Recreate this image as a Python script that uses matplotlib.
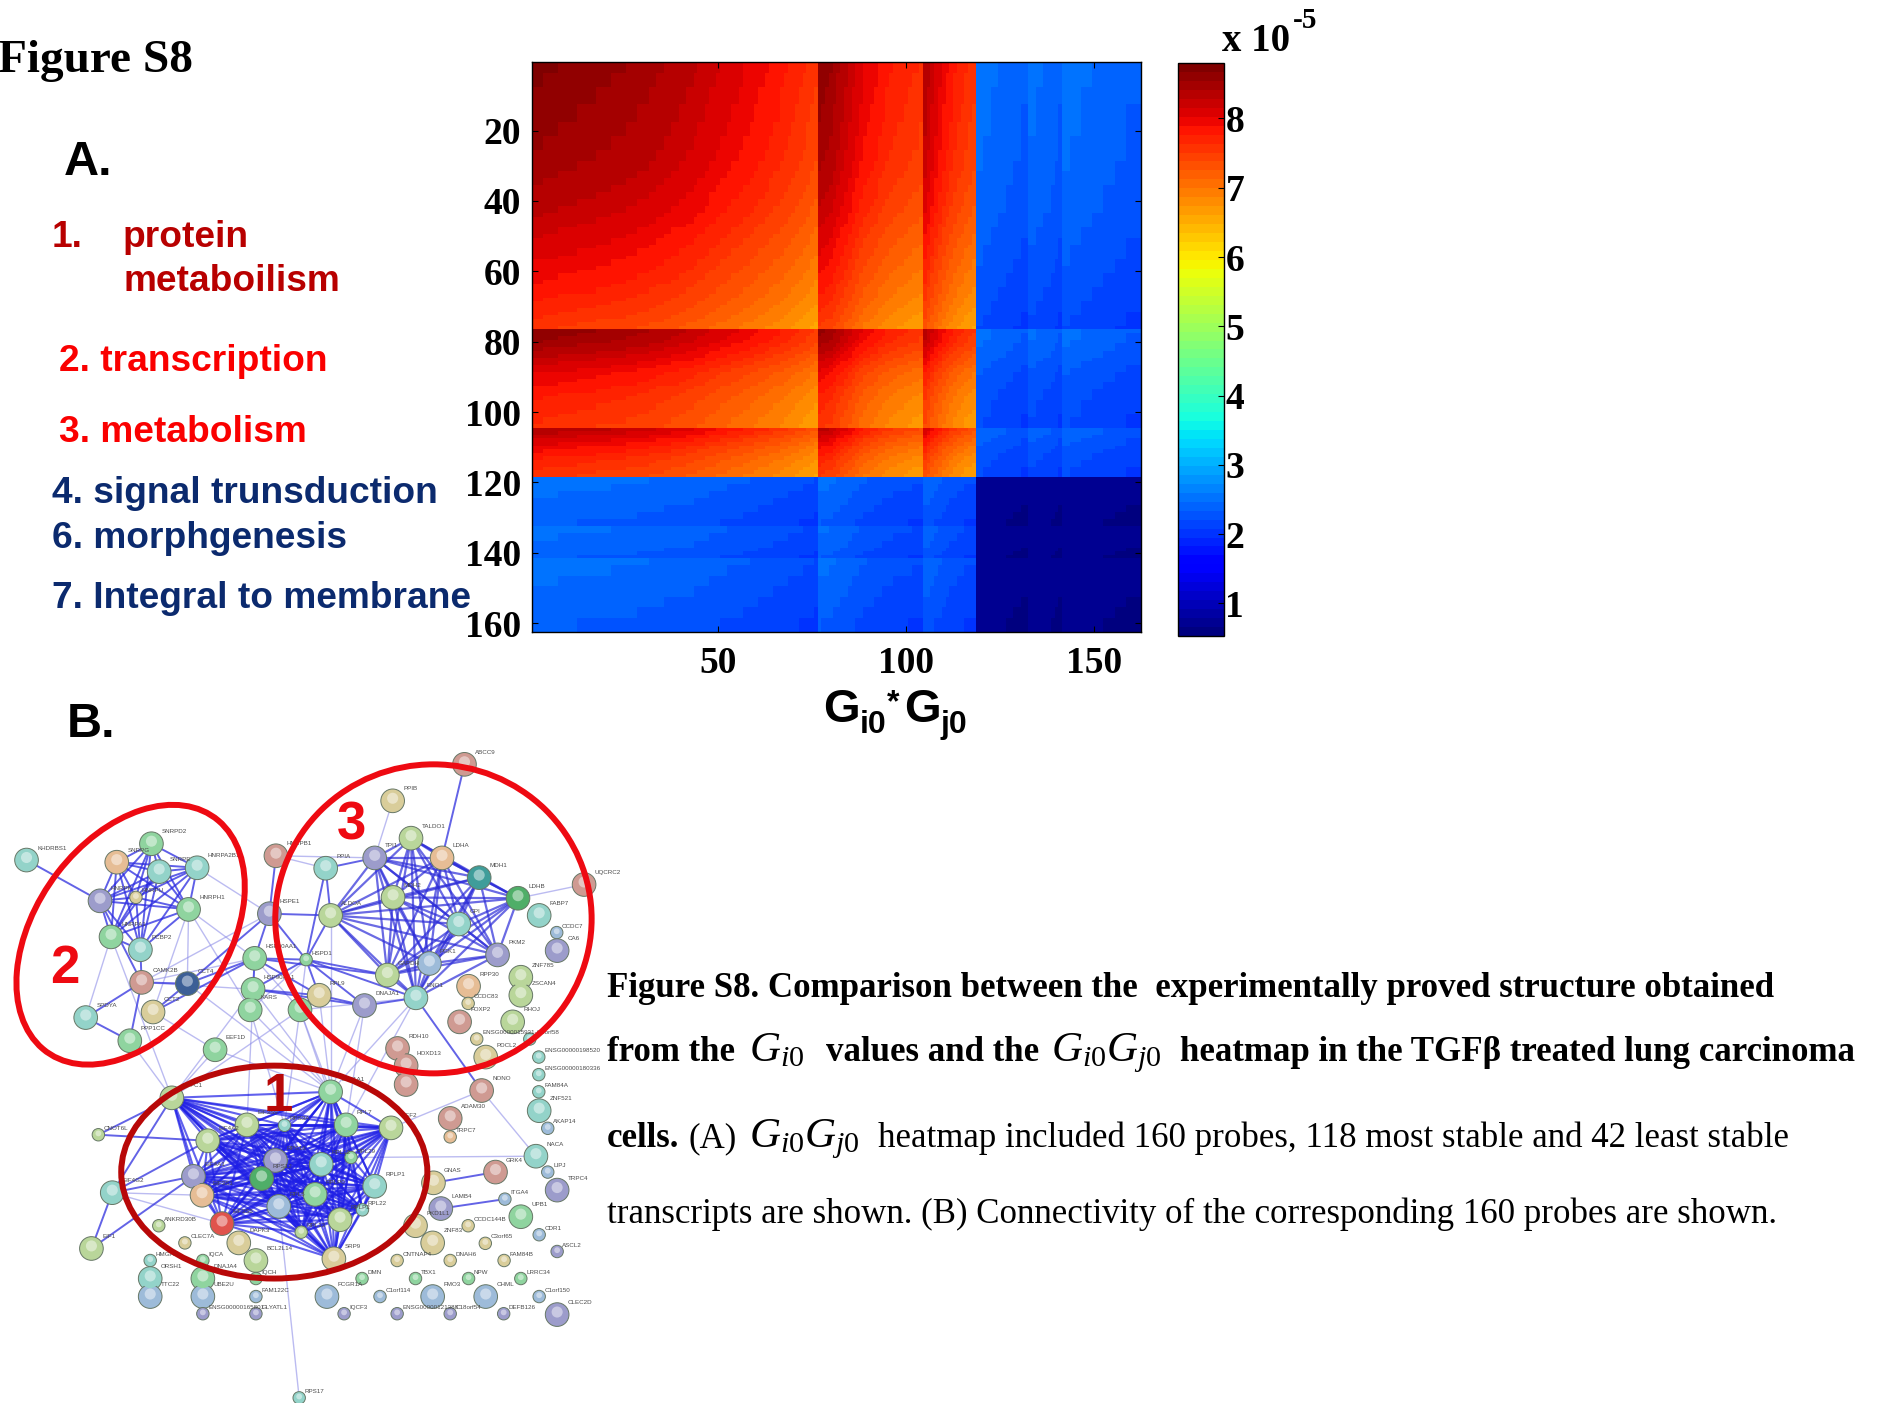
from itertools import combinations
import numpy as np
import matplotlib
matplotlib.use("Agg")
import matplotlib.pyplot as plt
from matplotlib.patches import Ellipse

plt.rcParams.update({
    "font.family": "Liberation Serif",
    "mathtext.fontset": "custom",
    "mathtext.rm": "Liberation Serif",
    "mathtext.it": "Liberation Serif:italic",
    "mathtext.bf": "Liberation Sans:bold",
})

# ── Data: heatmap (G_i0 profile) ──────────────────────────────────
g_stable_a = [
    2.95, 2.95, 2.95, 2.94, 2.94, 2.94, 2.94, 2.93, 2.93, 2.93,
    2.93, 2.93, 2.92, 2.92, 2.92, 2.92, 2.92, 2.91, 2.91, 2.91,
    2.91, 2.90, 2.90, 2.90, 2.90, 2.89, 2.89, 2.89, 2.88, 2.88,
    2.88, 2.87, 2.87, 2.86, 2.86, 2.85, 2.85, 2.84, 2.84, 2.83,
    2.83, 2.82, 2.82, 2.81, 2.80, 2.80, 2.79, 2.78, 2.78, 2.77,
    2.76, 2.76, 2.75, 2.74, 2.74, 2.73, 2.72, 2.72, 2.71, 2.70,
    2.69, 2.69, 2.68, 2.67, 2.66, 2.66, 2.65, 2.64, 2.63, 2.62,
    2.61, 2.60, 2.59, 2.58, 2.57, 2.56,
]
g_stable_b = [
    2.93, 2.92, 2.91, 2.90, 2.88, 2.86, 2.84, 2.82, 2.80, 2.78,
    2.76, 2.74, 2.72, 2.71, 2.70, 2.69, 2.67, 2.66, 2.65, 2.64,
    2.63, 2.62, 2.62, 2.61, 2.60, 2.59, 2.59, 2.58,
]
g_stable_c = [2.85, 2.82, 2.79, 2.76, 2.73, 2.70, 2.68, 2.66, 2.64, 2.62, 2.61, 2.59, 2.58, 2.57]
g_least_a = [0.86, 0.86, 0.85, 0.85, 0.84, 0.84, 0.83, 0.83, 0.82, 0.82, 0.81, 0.81, 0.80, 0.80]
g_least_b = [0.85, 0.85, 0.84, 0.84, 0.83, 0.83, 0.82, 0.81, 0.80]
g_least_c = [0.86, 0.86, 0.85, 0.85, 0.85, 0.84, 0.84, 0.84, 0.83, 0.83, 0.83,
             0.82, 0.82, 0.82, 0.81, 0.81, 0.81, 0.80, 0.80, 0.80, 0.80]

heat_xticks = [50, 100, 150]
heat_yticks = [20, 40, 60, 80, 100, 120, 140, 160]
cbar_ticks = [1, 2, 3, 4, 5, 6, 7, 8]

# ── Data: network (node layout) ───────────────────────────────────
node_names = [
    "ABCC9", "PPIB", "TALDO1", "TPI1", "LDHA", "PPIA", "MDH1", "MDH2",
    "LDHB", "UQCRC2", "ALDOA", "GPI", "FABP7", "CCDC7", "CA6", "PKM2",
    "PGK1", "GAPDH", "ZNF785", "ZSCAN4", "RPP30", "ENO1", "DNAJA1", "CCDC83",
    "FOXP2", "RHOJ", "ENSG0000015931-C6orf58", "C6orf58", "RDH10", "PDCL2", "HOXD13", "HOXD13b",
    "NONO", "ENSG00000198520", "ENSG00000180336", "FAM84A", "ZNF521", "AKAP14", "ADAM30", "TRPC7",
    "NACA", "GRK4", "LIPJ", "TRPC4", "GNAS", "LAMB4", "PKD1L1", "ITGA4",
    "UPB1", "CCDC144B", "CDR1", "ZNF83", "C3orf65", "ASCL2", "CNTNAP4", "DNAH6",
    "FAM84B", "DMN", "TBX1", "NPW", "LRRC34", "FCGR1A", "C1orf114", "FMO3",
    "CHML", "C1orf150", "IQCF3", "ENSG00000121388", "C18orf54", "DEFB126", "CLEC2D", "EPFC1",
    "CNOT6L", "EIF4G2", "EIF1", "ANKRD30B", "CLEC7A", "DAPK3", "BCL2L14", "HMGA",
    "ORSH1", "TTC22", "IQCA", "DNAJA4", "UBE2U", "IQCH", "FAM122C", "ENSG00000165801",
    "GLYATL1", "RPS17", "EIF3S9", "RPS3A", "EIF4A2", "RPL7", "EEF2", "EEF1A1",
    "RPS16", "RPL12", "RPL29", "EIF4A1", "RPS12", "RPLP0", "RPLP1", "EIF3S1",
    "RPL5", "RPL22", "RPLP2", "EIF3S6", "RPL13", "SRP9", "KHDRBS1", "SNRPD2",
    "SNRPG", "SNRPE", "HNRPA2B1", "HNRPK", "HNRPU", "HNRPH1", "HNRPA1", "PCBP2",
    "CAMK2B", "CCT4", "SPDYA", "CCT2", "PPP1CC", "HNRPB1", "HSPE1", "HSP90AA1",
    "HSP90AB", "KARS", "TUFM", "EEF1D", "RPL9", "HSPD1",
]
node_x = [
    1138, 962, 1007, 918, 1083, 798, 1174, 963,
    1269, 1431, 810, 1124, 1321, 1364, 1365, 1219,
    1052, 949, 1276, 1276, 1148, 1019, 893, 1147,
    1126, 1256, 1168, 1298, 974, 1190, 995, 995,
    1180, 1320, 1320, 1320, 1321, 1342, 1103, 1103,
    1313, 1214, 1342, 1365, 1062, 1080, 1018, 1237,
    1276, 1147, 1321, 1060, 1189, 1365, 973, 1103,
    1235, 887, 1018, 1148, 1276, 801, 931, 1060,
    1190, 1321, 843, 973, 1103, 1234, 1365, 421,
    241, 275, 224, 389, 453, 585, 627, 368,
    368, 368, 497, 497, 497, 627, 627, 497,
    627, 733, 605, 697, 509, 848, 958, 810,
    675, 787, 860, 474, 641, 772, 918, 495,
    683, 888, 833, 544, 738, 818, 65, 371,
    286, 390, 483, 245, 333, 462, 272, 344,
    347, 459, 210, 375, 318, 676, 660, 624,
    620, 613, 735, 527, 782, 750,
]
node_y = [
    80, 165, 252, 298, 298, 322, 344, 390,
    392, 360, 432, 452, 432, 472, 514, 524,
    544, 571, 576, 618, 597, 624, 642, 637,
    680, 680, 720, 720, 742, 762, 782, 826,
    840, 762, 803, 843, 887, 928, 905, 948,
    993, 1030, 1030, 1072, 1055, 1115, 1155, 1093,
    1134, 1155, 1176, 1195, 1196, 1215, 1236, 1236,
    1236, 1278, 1278, 1278, 1278, 1320, 1320, 1320,
    1320, 1320, 1360, 1360, 1360, 1360, 1362, 857,
    943, 1078, 1208, 1155, 1195, 1195, 1236, 1236,
    1278, 1320, 1236, 1278, 1320, 1278, 1320, 1360,
    1360, 1556, 920, 921, 957, 920, 927, 843,
    1003, 1012, 996, 1040, 1045, 1082, 1063, 1084,
    1110, 1118, 1141, 1150, 1170, 1232, 303, 265,
    308, 330, 321, 398, 390, 418, 482, 512,
    588, 591, 670, 657, 724, 293, 428, 532,
    604, 652, 652, 745, 618, 535,
]
node_tint = [
    "rose", "tan", "lime", "purple", "orange", "teal", "dteal", "lime",
    "dgreen", "rose", "lime", "teal", "teal", "blue", "purple", "purple",
    "blue", "lime", "lime", "lime", "orange", "teal", "purple", "tan",
    "rose", "lime", "tan", "teal", "rose", "tan", "rose", "rose",
    "rose", "teal", "teal", "teal", "teal", "blue", "rose", "orange",
    "teal", "rose", "blue", "purple", "tan", "purple", "tan", "blue",
    "green", "tan", "blue", "tan", "tan", "purple", "tan", "tan",
    "tan", "green", "green", "green", "green", "blue", "blue", "blue",
    "blue", "blue", "purple", "purple", "purple", "purple", "purple", "lime",
    "lime", "teal", "lime", "lime", "tan", "tan", "lime", "teal",
    "teal", "blue", "green", "green", "blue", "green", "blue", "purple",
    "purple", "teal", "lime", "teal", "lime", "green", "lime", "green",
    "purple", "teal", "green", "purple", "dgreen", "green", "teal", "orange",
    "blue", "teal", "lime", "red", "lime", "tan", "teal", "green",
    "orange", "teal", "teal", "purple", "tan", "green", "green", "teal",
    "rose", "navy", "teal", "tan", "green", "rose", "purple", "green",
    "green", "green", "green", "green", "tan", "green",
]
small_nodes = [
    "CCDC7", "CCDC83", "ENSG0000015931-C6orf58", "C6orf58", "ENSG00000198520", "ENSG00000180336",
    "FAM84A", "AKAP14", "TRPC7", "LIPJ", "ITGA4", "CCDC144B", "CDR1", "C3orf65", "ASCL2", "CNTNAP4",
    "DNAH6", "FAM84B", "DMN", "TBX1", "NPW", "LRRC34", "C1orf114", "C1orf150", "IQCF3",
    "ENSG00000121388", "C18orf54", "DEFB126", "CNOT6L", "ANKRD30B", "CLEC7A", "HMGA", "IQCA", "IQCH",
    "FAM122C", "ENSG00000165801", "GLYATL1", "RPS17", "RPS3A", "RPL29", "RPL22", "RPL13", "HNRPU",
    "HSPD1",
]
unlabelled = ["HOXD13b", "C6orf58", "TUFM"]
label_names = {"HSP90AB": "HSP90AA1"}

cluster_1 = ["EPFC1", "EIF3S9", "RPS3A", "EIF4A2", "RPL7", "EEF2", "EEF1A1", "RPS16", "RPL12", "RPL29",
             "EIF4A1", "RPS12", "RPLP0", "RPLP1", "EIF3S1", "RPL5", "RPL22", "RPLP2", "EIF3S6", "RPL13", "SRP9"]
cluster_2 = ["SNRPD2", "SNRPG", "SNRPE", "HNRPA2B1", "HNRPK", "HNRPU", "HNRPH1", "HNRPA1", "PCBP2"]
cluster_3 = ["TPI1", "LDHA", "MDH1", "MDH2", "LDHB", "ALDOA", "GPI", "PKM2", "PGK1", "GAPDH", "ENO1", "TALDO1"]
medium_edges = [
    ("KHDRBS1", "HNRPK"), ("HNRPB1", "HSPE1"), ("HSPE1", "HSP90AA1"), ("HSP90AA1", "HSP90AB"),
    ("HSP90AA1", "HSPD1"), ("HSP90AB", "HSPD1"), ("HSPD1", "RPL9"), ("HSP90AA1", "RPL9"),
    ("HSP90AB", "RPL9"), ("HSPD1", "DNAJA1"), ("RPL9", "DNAJA1"), ("HSPD1", "ALDOA"),
    ("HSPD1", "GAPDH"), ("HSPD1", "ENO1"), ("HSP90AA1", "GAPDH"), ("ENO1", "NONO"),
    ("ABCC9", "LDHA"), ("SPDYA", "PPP1CC"), ("CAMK2B", "PPP1CC"), ("CAMK2B", "SPDYA"),
    ("CCT4", "CCT2"), ("CCT2", "HSP90AA1"), ("CCT4", "HSP90AA1"), ("PPIA", "ALDOA"),
    ("PPIA", "HSPD1"), ("PPIA", "TPI1"), ("EIF4G2", "EIF4A1"), ("EIF1", "EIF4G2"),
    ("EIF1", "EIF4A1"), ("CNOT6L", "EIF4A2"), ("CNOT6L", "EPFC1"), ("GNAS", "GRK4"),
    ("ITGA4", "LAMB4"), ("EIF4G2", "EPFC1"), ("EIF4G2", "EIF4A2"), ("HNRPK", "CAMK2B"),
    ("PCBP2", "CAMK2B"), ("HSPE1", "ALDOA"), ("HSPE1", "HSPD1"), ("DNAJA1", "ENO1"),
    ("HSP90AB", "DNAJA1"), ("CAMK2B", "CCT4"), ("HSPE1", "CCT4"),
]
light_edges = [
    ("HNRPA2B1", "HSPE1"), ("HNRPH1", "HSP90AA1"), ("HNRPH1", "CCT4"), ("HNRPA1", "EPFC1"),
    ("PPP1CC", "EPFC1"), ("EEF1D", "EPFC1"), ("KARS", "EEF1A1"), ("EEF1D", "EEF1A1"),
    ("TUFM", "EPFC1"), ("TUFM", "EEF1A1"), ("HSP90AB", "EEF1A1"), ("RPL9", "EEF1A1"),
    ("DNAJA1", "EEF1A1"), ("ENO1", "EEF1A1"), ("ENO1", "RPL7"), ("KARS", "RPS3A"),
    ("TUFM", "RPS3A"), ("HSP90AA1", "EIF3S9"), ("UQCRC2", "LDHB"), ("PPIB", "TPI1"),
    ("NONO", "EEF2"), ("NACA", "NONO"), ("RPL29", "NACA"), ("RPS17", "RPL5"),
    ("HNRPB1", "PPIA"), ("HNRPB1", "TPI1"), ("CCT2", "EEF1D"), ("HSPE1", "CAMK2B"),
    ("HSP90AB", "CAMK2B"), ("HSP90AA1", "CAMK2B"), ("HSP90AA1", "TUFM"), ("HSP90AB", "EPFC1"),
    ("KARS", "HSPD1"), ("TUFM", "HSPD1"), ("TUFM", "RPL29"), ("DNAJA1", "RPL7"),
    ("HNRPH1", "CCT2"), ("HNRPH1", "KARS"), ("HNRPA1", "SPDYA"), ("EIF3S6", "EIF4G2"),
    ("EIF4G2", "EIF3S1"), ("CCT4", "EEF1A1"), ("TUFM", "ENO1"), ("ALDOA", "EEF1A1"),
]

# ── Data: page text ───────────────────────────────────────────────
list_items = ["1.", "protein", "metaboilism", "2. transcription", "3. metabolism",
              "4. signal trunsduction", "6. morphgenesis", "7. Integral to membrane"]
caption_1 = "Figure S8. Comparison between the  experimentally proved structure obtained"
caption_2a = "from the"
caption_2b = "values and the"
caption_2c = "heatmap in the TGFβ treated lung carcinoma"
caption_3a = "cells."
caption_3b = "(A)"
caption_3c = "heatmap included 160 probes, 118 most stable and 42 least stable"
caption_4 = "transcripts are shown. (B) Connectivity of the corresponding 160 probes are shown."
G_I0 = r"$G_{i0}$"
G_IJ = r"$G_{i0}G_{j0}$"

TINTS = {
    "rose": "#cf9a92", "tan": "#d9cd9a", "lime": "#b9d69a", "purple": "#9c9ccb",
    "orange": "#e6bd95", "teal": "#93d3c9", "dteal": "#3f9d9a", "green": "#8fd49f",
    "dgreen": "#4fae68", "blue": "#9dbbd9", "red": "#e0534c", "navy": "#3c5f96",
}
SANS_BOLD = dict(family="Liberation Sans", fontweight="bold")
W, H = 1881, 1403
CAP = 25.1


def px_axes(fig, left, top, right, bottom, **kw):
    """Axes placed by its pixel box in the page."""
    return fig.add_axes([left / W, 1 - bottom / H, (right - left) / W, (bottom - top) / H], **kw)


fig = plt.figure(figsize=(W / 100, H / 100), dpi=100)

# ── Page text ─────────────────────────────────────────────────────
page = fig.add_axes([0, 0, 1, 1])
page.set_xlim(0, W)
page.set_ylim(H, 0)
page.axis("off")

page.text(-2, 72, "Figure S8", fontsize=34, fontweight="bold", va="baseline")
page.text(64, 175, "A.", fontsize=35, va="baseline", **SANS_BOLD)
page.text(67, 737, "B.", fontsize=35, va="baseline", **SANS_BOLD)

DARK_RED, RED, NAVY = "#b80000", "#fa0000", "#0b2a6e"
list_x = [52, 123, 123, 59, 59, 52, 52, 52]
list_y = [247, 247, 291, 371, 442, 503, 548, 608]
list_c = [DARK_RED, DARK_RED, DARK_RED, RED, RED, NAVY, NAVY, NAVY]
for label, x, y, c in zip(list_items, list_x, list_y, list_c):
    page.text(x, y, label, color=c, fontsize=26.7, va="baseline", **SANS_BOLD)

page.text(607, 997, caption_1, fontsize=CAP, fontweight="bold", va="baseline")
page.text(607, 1061, caption_2a, fontsize=CAP, fontweight="bold", va="baseline")
page.text(749, 1061, G_I0, fontsize=31, va="baseline")
page.text(826, 1061, caption_2b, fontsize=CAP, fontweight="bold", va="baseline")
page.text(1051, 1061, G_IJ, fontsize=31, va="baseline")
page.text(1180, 1061, caption_2c, fontsize=CAP, fontweight="bold", va="baseline")
page.text(607, 1147, caption_3a, fontsize=CAP, fontweight="bold", va="baseline")
page.text(689, 1147, caption_3b, fontsize=CAP, va="baseline")
page.text(749, 1147, G_IJ, fontsize=31, va="baseline")
page.text(878, 1147, caption_3c, fontsize=CAP, va="baseline")
page.text(607, 1223, caption_4, fontsize=CAP, va="baseline")

# ── Panel A: heatmap ──────────────────────────────────────────────
g = np.array(g_stable_a + g_stable_b + g_stable_c + g_least_a + g_least_b + g_least_c)
values = np.outer(g, g)

ax = px_axes(fig, 532, 62, 1141, 632)
im = ax.imshow(values, cmap=plt.get_cmap("jet", 64), vmin=0.53, vmax=8.8, aspect="auto",
               interpolation="nearest", extent=(0.5, 162.5, 162.5, 0.5))
ax.set_xticks(heat_xticks)
ax.set_yticks(heat_yticks)
ax.tick_params(direction="in", top=True, right=True, length=4, width=0.8, labelsize=27)
ax.tick_params(axis="x", pad=10)
ax.tick_params(axis="y", pad=8)
for lab in ax.get_xticklabels() + ax.get_yticklabels():
    lab.set_fontweight("bold")
for s in ax.spines.values():
    s.set_linewidth(1.0)

cax = px_axes(fig, 1178, 63, 1224, 636)
cb = fig.colorbar(im, cax=cax)
cb.set_ticks(cbar_ticks)
cb.ax.tick_params(direction="in", length=4, width=0.8, pad=1, labelsize=27)
for lab in cb.ax.get_yticklabels():
    lab.set_fontweight("bold")
cb.outline.set_linewidth(1.0)

page.text(1222, 51, "x 10", fontsize=28, fontweight="bold", va="baseline")
page.text(1293, 28, "-5", fontsize=21, fontweight="bold", va="baseline")

# x label built from pieces so the star can sit up high
page.text(823, 722, "G", fontsize=34, va="baseline", **SANS_BOLD)
page.text(860, 733, "i0", fontsize=23, va="baseline", **SANS_BOLD)
page.text(887, 711, "*", fontsize=23, va="baseline", **SANS_BOLD)
page.text(904, 722, "G", fontsize=34, va="baseline", **SANS_BOLD)
page.text(941, 733, "j0", fontsize=23, va="baseline", **SANS_BOLD)

# ── Panel B: network ──────────────────────────────────────────────
net = px_axes(fig, 0, 730, 640, 1403)
net.patch.set_alpha(0)
net.set_xlim(0, 1568)
net.set_ylim(1568, 0)
net.axis("off")

pos = {n: (x, y) for n, x, y in zip(node_names, node_x, node_y)}


def draw_edges(pairs, color, lw, alpha):
    for a, b in pairs:
        net.plot([pos[a][0], pos[b][0]], [pos[a][1], pos[b][1]], color=color, lw=lw,
                 alpha=alpha, solid_capstyle="round", zorder=1)


draw_edges(light_edges, "#8f8fe8", 1.0, 0.6)
draw_edges(medium_edges, "#3c3ce0", 1.4, 0.8)
draw_edges(combinations(cluster_1, 2), "#1e1ee6", 1.5, 0.7)
draw_edges(combinations(cluster_2, 2), "#2a2ae0", 1.4, 0.75)
draw_edges(combinations(cluster_3, 2), "#2c2cd8", 1.6, 0.7)

sizes = np.array([80 if n in small_nodes else 290 for n in node_names])
colors = [TINTS[t] for t in node_tint]
xs, ys = np.array(node_x), np.array(node_y)
net.scatter(xs, ys, s=sizes, c=colors, edgecolors="#667766", linewidths=0.7, zorder=3)
net.scatter(xs, ys + 0.12 * np.sqrt(sizes), s=sizes * 0.55, c=colors, edgecolors="none", zorder=4)
net.scatter(xs, ys - 0.35 * np.sqrt(sizes), s=sizes * 0.22, c="white", alpha=0.45, edgecolors="none", zorder=5)

for n, x, y in zip(node_names, node_x, node_y):
    if n in unlabelled:
        continue
    r = 13 if n in small_nodes else 26
    net.text(x + r, y - r - 2, label_names.get(n, n), family="Liberation Sans", fontsize=4.5,
             color="#4a4a4a", va="center", ha="left", zorder=6)

net.add_patch(Ellipse((320, 477), 684, 460, angle=-51, fill=False, ec="#ee0a12", lw=4.3, zorder=7))
net.add_patch(Ellipse((1062, 440), 775, 720, fill=False, ec="#ee0a12", lw=4.3, zorder=7))
net.add_patch(Ellipse((672, 1030), 750, 496, fill=False, ec="#b80808", lw=4.3, zorder=7))
net.text(682, 888, "1", color="#b80808", fontsize=38, ha="center", va="baseline", zorder=8, **SANS_BOLD)
net.text(160, 590, "2", color="#ee0a12", fontsize=38, ha="center", va="baseline", zorder=8, **SANS_BOLD)
net.text(862, 255, "3", color="#ee0a12", fontsize=38, ha="center", va="baseline", zorder=8, **SANS_BOLD)

fig.savefig("out.png", dpi=100)
